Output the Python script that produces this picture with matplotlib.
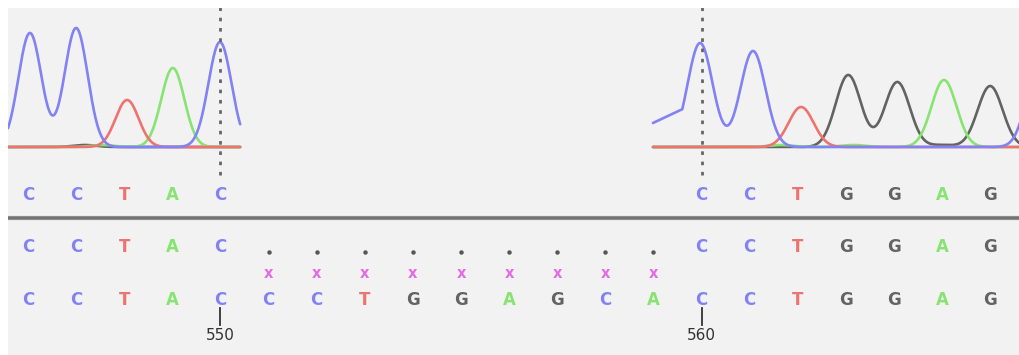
import numpy as np
import matplotlib
matplotlib.use("Agg")
import matplotlib.pyplot as plt

# ---------------- data ----------------
# aligned sequences (one letter per column)
called_top = list("CCTAC.........CCTGGAG")   # base calls above the separator ('.' = no trace)
read_seq   = list("CCTAC.........CCTGGAG")   # read row ('.' = gap)
ref_seq    = list("CCTACCCTGGAGCACCTGGAG")   # reference row
mismatch_cols = [5, 6, 7, 8, 9, 10, 11, 12, 13]
ruler_cols = [4, 14]
ruler_labels = ["550", "560"]

# chromatogram peaks: (channel, position in base columns, height)
left_peaks = [("C", 0.04, 114), ("C", 1.00, 119), ("T", 2.06, 47),
              ("A", 3.01, 79), ("C", 3.99, 105),
              ("G", 1.18, 2), ("A", 1.55, 2)]
right_peaks = [("C", 13.97, 104), ("C", 15.07, 96), ("T", 16.07, 40),
               ("G", 17.05, 72), ("G", 18.07, 65), ("A", 19.04, 67),
               ("G", 20.00, 61), ("C", 21.04, 90),
               ("A", 15.65, 2), ("A", 17.15, 2), ("G", 19.0, 2)]
left_span = (-0.416, 4.41)
right_span = (13.60, 20.62)
right_lead = (12.99, 24)          # first (sparse) blue sample of the right trace
left_sigma, right_sigma = 0.24, 0.26

colors = {"C": "#8282f4", "T": "#ee7370", "A": "#88e472", "G": "#636363"}
gap_color, mark_color = "#555555", "#e46be6"

# ---------------- layout (axes units ~ pixels) ----------------
x0, x1 = -0.416, 20.62
baseline = 208
y_top_calls, y_sep = 160, 137
y_read, y_gap, y_mark, y_ref = 108, 103, 82, 55
y_tick0, y_tick1, y_ruler = 47, 30, 20

fig = plt.figure(figsize=(10.2, 3.55), dpi=100, facecolor="white")
ax = fig.add_axes([8 / 1020, 0, 1012 / 1020, 347 / 355])
ax.set_facecolor("#f2f2f2")
ax.set_xlim(x0, x1)
ax.set_ylim(0, 347)
ax.set_axis_off()
ax.add_patch(plt.Rectangle((x0, 0), x1 - x0, 347, color="#f2f2f2", zorder=0))


def trace(peaks, span, sigma, lead=None):
    xs = np.linspace(span[0], span[1], 600)
    out = {}
    for ch in "GATC":
        ys = np.zeros_like(xs)
        for c, pos, h in peaks:
            if c == ch:
                ys += h * np.exp(-0.5 * ((xs - pos) / sigma) ** 2)
        out[ch] = (xs, ys)
    if lead is not None:
        xs, ys = out["C"]
        out["C"] = (np.concatenate([[lead[0]], xs]), np.concatenate([[lead[1]], ys]))
        for ch in "GAT":
            xs, ys = out[ch]
            out[ch] = (np.concatenate([[lead[0]], xs]), np.concatenate([[0], ys]))
    return out


order = ["G", "A", "T", "C"]
for peaks, span, sig, lead in [(left_peaks, left_span, left_sigma, None),
                               (right_peaks, right_span, right_sigma, right_lead)]:
    tr = trace(peaks, span, sig, lead)
    for z, ch in enumerate(order):
        xs, ys = tr[ch]
        ax.plot(xs, baseline + ys, color=colors[ch], lw=1.9, zorder=3 + z,
                solid_capstyle="round", solid_joinstyle="round")

# dotted ruler guides through the trace
for col in ruler_cols:
    ax.plot([col, col], [180, 348], color="#666666", lw=2.0,
            linestyle=(0, (1.3, 2.4)), zorder=10)

letter_font = dict(family=["Liberation Sans Narrow", "DejaVu Sans"],
                   fontsize=12, fontweight="bold", ha="center", va="center")

for i, b in enumerate(called_top):
    if b in colors:
        ax.text(i, y_top_calls, b, color=colors[b], **letter_font)

# separator
ax.plot([x0, x1], [y_sep, y_sep], color="#8c8c8c", lw=3.0, zorder=2)
ax.plot([x0, x1], [y_sep, y_sep], color="#6e6e6e", lw=1.2, zorder=2)

for i, b in enumerate(read_seq):
    if b in colors:
        ax.text(i, y_read, b, color=colors[b], **letter_font)
    else:
        ax.plot(i, y_gap, "o", ms=3.2, color=gap_color, mec="none")

for i in mismatch_cols:
    ax.text(i, y_mark, "x", color=mark_color, fontsize=10.5, fontweight="bold",
            ha="center", va="center", family="DejaVu Sans")

for i, b in enumerate(ref_seq):
    ax.text(i, y_ref, b, color=colors[b], **letter_font)

for col, lab in zip(ruler_cols, ruler_labels):
    ax.plot([col, col], [y_tick0, y_tick1], color="#333333", lw=1.3)
    ax.text(col, y_ruler, lab, color="#333333", fontsize=11,
            family=["Liberation Sans Narrow", "DejaVu Sans"],
            ha="center", va="center")

fig.savefig("out.png", dpi=100, facecolor="white")
